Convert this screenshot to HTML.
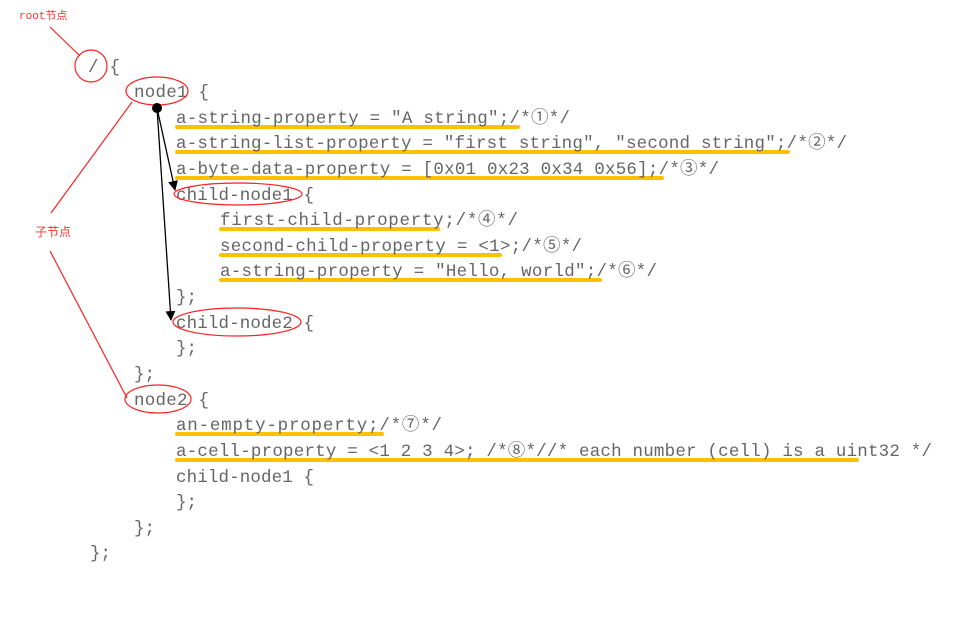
<!DOCTYPE html>
<html><head><meta charset="utf-8"><style>
html,body{margin:0;padding:0;background:#fff;}
svg{display:block;}
.t{font-family:"Liberation Mono","Noto Sans CJK SC",monospace;font-size:17.5px;fill:#666;}
.u{stroke:#FFC000;stroke-width:4;stroke-linecap:round;}
.r{stroke:#ff2020;stroke-width:1.2;fill:none;}
</style></head><body>
<svg width="975" height="626" viewBox="0 0 975 626" xmlns="http://www.w3.org/2000/svg">
<defs><marker id="ah" markerWidth="10" markerHeight="10" refX="9" refY="5" orient="auto" markerUnits="userSpaceOnUse"><path d="M0,0 L10,5 L0,10 z" fill="#000"/></marker></defs>
<line class="u" x1="177" y1="127" x2="518" y2="127"/>
<line class="u" x1="177" y1="152" x2="788" y2="152"/>
<line class="u" x1="177" y1="178" x2="662" y2="178"/>
<line class="u" x1="221" y1="229" x2="438" y2="229"/>
<line class="u" x1="221" y1="255" x2="500" y2="255"/>
<line class="u" x1="221" y1="280" x2="600" y2="280"/>
<line class="u" x1="177" y1="434" x2="382" y2="434"/>
<line class="u" x1="177" y1="460" x2="857" y2="460"/>
<text class="t" x="88" y="72" textLength="32" lengthAdjust="spacing">/ {</text>
<text class="t" x="134" y="97" textLength="75" lengthAdjust="spacing">node1 {</text>
<text class="t" x="176" y="123" textLength="394" lengthAdjust="spacing">a-string-property = "A string";/*①*/</text>
<text class="t" x="176" y="148" textLength="671" lengthAdjust="spacing">a-string-list-property = "first string", "second string";/*②*/</text>
<text class="t" x="176" y="174" textLength="543" lengthAdjust="spacing">a-byte-data-property = [0x01 0x23 0x34 0x56];/*③*/</text>
<text class="t" x="176" y="200" textLength="138" lengthAdjust="spacing">child-node1 {</text>
<text class="t" x="220" y="225" textLength="298" lengthAdjust="spacing">first-child-property;/*④*/</text>
<text class="t" x="220" y="251" textLength="362" lengthAdjust="spacing">second-child-property = &lt;1&gt;;/*⑤*/</text>
<text class="t" x="220" y="276" textLength="437" lengthAdjust="spacing">a-string-property = "Hello, world";/*⑥*/</text>
<text class="t" x="176" y="302" textLength="21" lengthAdjust="spacing">};</text>
<text class="t" x="176" y="328" textLength="138" lengthAdjust="spacing">child-node2 {</text>
<text class="t" x="176" y="353" textLength="21" lengthAdjust="spacing">};</text>
<text class="t" x="134" y="379" textLength="21" lengthAdjust="spacing">};</text>
<text class="t" x="134" y="405" textLength="75" lengthAdjust="spacing">node2 {</text>
<text class="t" x="176" y="430" textLength="266" lengthAdjust="spacing">an-empty-property;/*⑦*/</text>
<text class="t" x="176" y="456" textLength="756" lengthAdjust="spacing">a-cell-property = &lt;1 2 3 4&gt;; /*⑧*//* each number (cell) is a uint32 */</text>
<text class="t" x="176" y="482" textLength="138" lengthAdjust="spacing">child-node1 {</text>
<text class="t" x="176" y="507" textLength="21" lengthAdjust="spacing">};</text>
<text class="t" x="134" y="533" textLength="21" lengthAdjust="spacing">};</text>
<text class="t" x="90" y="558" textLength="21" lengthAdjust="spacing">};</text>
<text x="19" y="19" style="font-family:'Liberation Mono','Noto Sans CJK SC',monospace;font-size:11px;fill:#ff3030">root节点</text>
<line class="r" x1="50" y1="27" x2="80" y2="56"/>
<circle class="r" cx="91" cy="66" r="16"/>
<ellipse class="r" cx="157" cy="91" rx="31" ry="14"/>
<text x="35" y="236" style="font-family:'Noto Sans CJK SC',sans-serif;font-size:12px;fill:#ff3030">子节点</text>
<line class="r" x1="132" y1="102" x2="51" y2="213"/>
<line class="r" x1="50" y1="251" x2="127" y2="398"/>
<ellipse class="r" cx="238" cy="194" rx="64" ry="11"/>
<ellipse class="r" cx="237" cy="322" rx="64" ry="14"/>
<ellipse class="r" cx="158" cy="399" rx="33" ry="14"/>
<circle cx="157" cy="108" r="5" fill="#000"/>
<line x1="157" y1="108" x2="175" y2="190" stroke="#000" stroke-width="1.3" marker-end="url(#ah)"/>
<line x1="157" y1="108" x2="171" y2="320" stroke="#000" stroke-width="1.3" marker-end="url(#ah)"/>
</svg>
</body></html>
